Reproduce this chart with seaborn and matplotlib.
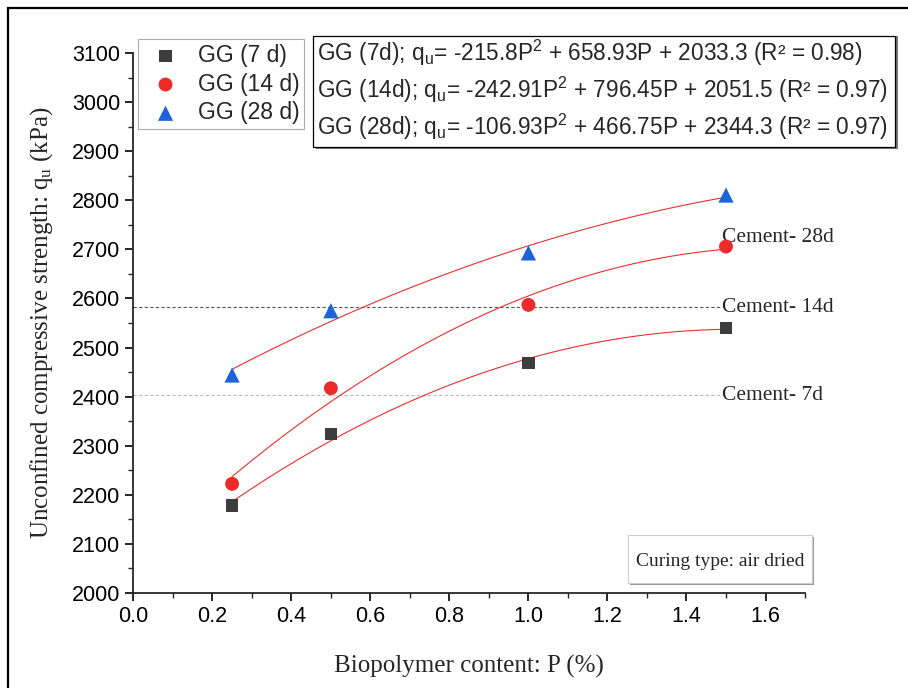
import numpy as np
import pandas as pd
import matplotlib
matplotlib.use("Agg")
import matplotlib.pyplot as plt
from matplotlib.patches import Rectangle
from matplotlib.ticker import MultipleLocator
import seaborn as sns

# --- data ---
P = [0.25, 0.5, 1.0, 1.5]
qu_7d = [2178, 2324, 2468, 2540]
qu_14d = [2222, 2417, 2587, 2706]
qu_28d = [2444, 2575, 2693, 2811]

series_labels = ["GG (7 d)", "GG (14 d)", "GG (28 d)"]
equations = [
    r"GG (7d); q$_{u}$= -215.8P$^{2}$ + 658.93P + 2033.3 (R² = 0.98)",
    r"GG (14d); q$_{u}$= -242.91P$^{2}$ + 796.45P + 2051.5 (R² = 0.97)",
    r"GG (28d); q$_{u}$= -106.93P$^{2}$ + 466.75P + 2344.3 (R² = 0.97)",
]
cement_labels = ["Cement- 28d", "Cement- 14d", "Cement- 7d"]
cement_y = [2725, 2582, 2403]

# --- style ---
sns.set_style("ticks")
plt.rcParams["font.family"] = ["Liberation Sans", "DejaVu Sans"]
plt.rcParams["mathtext.default"] = "regular"
SERIF = ["Liberation Serif", "DejaVu Serif"]

colors = ["#3d3d3d", "#ee2a2a", "#1c64d8"]
markers = ["s", "o", "^"]
sizes = [80, 100, 120]

df = pd.DataFrame({"P": P * 3,
                   "qu": qu_7d + qu_14d + qu_28d,
                   "series": np.repeat(series_labels, len(P))})

fig = plt.figure(figsize=(9.08, 6.88), dpi=100)
ax = fig.add_axes([0.1468, 0.1385, 0.7398, 0.784])

# cement reference lines
ax.plot([0, 1.49], [cement_y[1]] * 2, ls=(0, (3, 2)), color="#555555", lw=0.8)
ax.plot([0, 1.49], [cement_y[2]] * 2, ls=(0, (3, 2)), color="#bbbbbb", lw=0.8)
for lab, yv in zip(cement_labels, cement_y):
    ax.text(1.49, yv, lab, family=SERIF, fontsize=15.5, va="center", ha="left")

# quadratic fits + markers
for lab, col, mk, sz in zip(series_labels, colors, markers, sizes):
    sub = df[df["series"] == lab]
    sns.regplot(data=sub, x="P", y="qu", order=2, ci=None, scatter=False,
                line_kws=dict(color="#e8302f", lw=0.8), ax=ax)
    sns.scatterplot(data=sub, x="P", y="qu", marker=mk, color=col, s=sz,
                    edgecolor="none", label=lab, ax=ax, zorder=5)

ax.set_xlim(0, 1.7)
ax.set_ylim(2000, 3100)
ax.set_xticks(np.arange(0, 1.61, 0.2))
ax.set_yticks(np.arange(2000, 3101, 100))
ax.xaxis.set_minor_locator(MultipleLocator(0.1))
ax.yaxis.set_minor_locator(MultipleLocator(50))
ax.tick_params(which="major", length=6, width=1.2, labelsize=15.5, colors="black")
ax.tick_params(which="minor", length=3.5, width=1.0)
for s in ["left", "bottom"]:
    ax.spines[s].set_linewidth(1.3)
sns.despine(ax=ax)

ax.set_xlabel("Biopolymer content: P (%)", family=SERIF, fontsize=18, labelpad=20)
ax.set_ylabel(r"Unconfined compressive strength: q$_{u}$ (kPa)", family=SERIF,
              fontsize=18, labelpad=12)

leg = ax.legend(loc="upper left", bbox_to_anchor=(0.152, 0.943),
                bbox_transform=fig.transFigure, fontsize=16.5, frameon=True,
                fancybox=False, framealpha=1, edgecolor="#aaaaaa",
                handletextpad=0.4, borderpad=0.2, labelspacing=0.25,
                handlelength=2.0, borderaxespad=0)
leg.get_frame().set_linewidth(0.8)

# equation box
W, H = 908, 688
def fx(px):
    return px / W
def fy(py):
    return 1 - py / H

fig.patches.append(Rectangle((fx(316), fy(149)), fx(582), 113 / H,
                             transform=fig.transFigure, facecolor="#777777",
                             edgecolor="none", zorder=3))
fig.patches.append(Rectangle((fx(313), fy(147)), fx(582), 111 / H,
                             transform=fig.transFigure, facecolor="white",
                             edgecolor="black", lw=0.9, zorder=4))
for i, eq in enumerate(equations):
    fig.text(fx(317), fy(53 + 37 * i), eq, fontsize=16.3, va="center",
             ha="left", zorder=6)

# curing type box
fig.patches.append(Rectangle((fx(630), fy(585)), fx(184), 48 / H,
                             transform=fig.transFigure, facecolor="#999999",
                             edgecolor="none", zorder=3))
fig.patches.append(Rectangle((fx(628), fy(583)), fx(184), 48 / H,
                             transform=fig.transFigure, facecolor="white",
                             edgecolor="#cccccc", lw=0.8, zorder=4))
fig.text(fx(720), fy(561), "Curing type: air dried", family=SERIF, fontsize=14,
         ha="center", va="center", zorder=6)

# outer frame
fig.patches.append(Rectangle((fx(8), -0.2), 1.2, fy(8) + 0.2,
                             transform=fig.transFigure, fill=False,
                             edgecolor="black", lw=1.6))

fig.savefig("out.png", dpi=100)
